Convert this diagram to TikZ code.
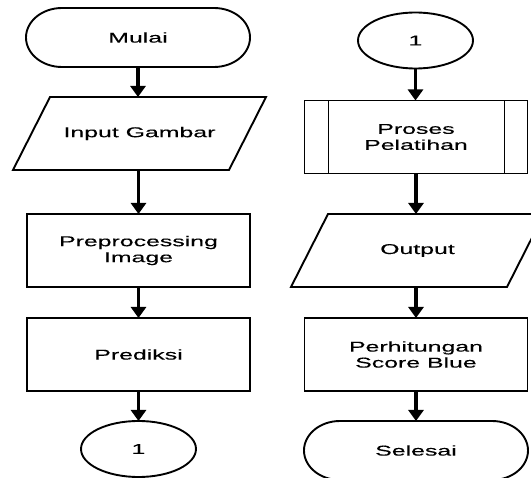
\documentclass[tikz,border=0pt]{standalone}
\usepackage{fontspec}
\setmainfont[FakeStretch=1.75,FakeBold=0.25]{Liberation Sans}
\usetikzlibrary{shapes.geometric,arrows.meta,calc}

\tikzset{
  every node/.style={inner sep=0pt, outer sep=0pt, align=center,
    font=\fontsize{14.2}{16}\selectfont},
  shapeline/.style={draw=black, line width=1.9pt},
  box/.style={shapeline, rectangle, minimum width=223pt, minimum height=73pt},
  slot/.style={rectangle, minimum width=216pt, minimum height=73pt},
  endcap/.style={rectangle, minimum width=224pt, minimum height=59pt},
  link/.style={shapeline, ellipse, minimum width=115pt, minimum height=56pt},
  flow/.style={draw=black, line width=3.2pt,
    -{Triangle[width=15pt,length=11pt]}},
}

\begin{document}
\begin{tikzpicture}[x=1pt,y=1pt]
  \useasboundingbox (0,0) rectangle (531,-478);
  \fill[white] (0,0) rectangle (531,-478);
  \clip (0,0) rectangle (531,-478);

  % ---- left column ----
  \node[endcap] (mulai) at (138,-37.5) {Mulai};
  \draw[shapeline]
    ($(mulai.north west)+(36,0)$) -- ($(mulai.north east)+(-36,0)$)
    arc[start angle=90, end angle=-90, x radius=36, y radius=29.5]
    -- ($(mulai.south west)+(36,0)$)
    arc[start angle=270, end angle=90, x radius=36, y radius=29.5] -- cycle;

  \node[slot] (input) at (139.5,-133.5) {Input Gambar};
  \draw[shapeline]
    ($(input.north west)+(18.5,0)$) -- ($(input.north east)+(18.5,0)$)
    -- ($(input.south east)+(-18.5,0)$) -- ($(input.south west)+(-18.5,0)$)
    -- cycle;

  \node[box] (pre) at (138.5,-250.5) {Preprocessing\\Image};
  \node[box] (pred) at (138.5,-354.5) {Prediksi};
  \node[link] (con1) at (138.5,-449) {1};

  % ---- right column ----
  \node[link] (con2) at (415.5,-40.5) {1};

  \node[box] (proses) at (416,-137) {Proses\\Pelatihan};
  \draw[shapeline] ($(proses.north west)+(24,0)$) -- ($(proses.south west)+(24,0)$);
  \draw[shapeline] ($(proses.north east)+(-23,0)$) -- ($(proses.south east)+(-23,0)$);

  \node[slot] (output) at (417.5,-250.5) {Output};
  \draw[shapeline]
    ($(output.north west)+(18.5,0)$) -- ($(output.north east)+(18.5,0)$)
    -- ($(output.south east)+(-18.5,0)$) -- ($(output.south west)+(-18.5,0)$)
    -- cycle;

  \node[box] (hitung) at (416,-354.5) {Perhitungan\\Score Blue};

  \node[endcap] (selesai) at (416,-450.5) {Selesai};
  \draw[shapeline]
    ($(selesai.north west)+(36,0)$) -- ($(selesai.north east)+(-36,0)$)
    arc[start angle=90, end angle=-90, x radius=36, y radius=29.5]
    -- ($(selesai.south west)+(36,0)$)
    arc[start angle=270, end angle=90, x radius=36, y radius=29.5] -- cycle;

  % ---- connectors ----
  \draw[flow] (mulai.south) -- (mulai.south |- input.north);
  \draw[flow] (input.south -| pre.north) -- (pre.north);
  \draw[flow] (pre.south) -- (pred.north);
  \draw[flow] (pred.south) -- (con1.north);

  \draw[flow] (con2.south) -- (con2.south |- proses.north);
  \draw[flow] (proses.south) -- (proses.south |- output.north);
  \draw[flow] (proses.south |- output.south) -- (hitung.north);
  \draw[flow] (hitung.south) -- (selesai.north);
\end{tikzpicture}
\end{document}
